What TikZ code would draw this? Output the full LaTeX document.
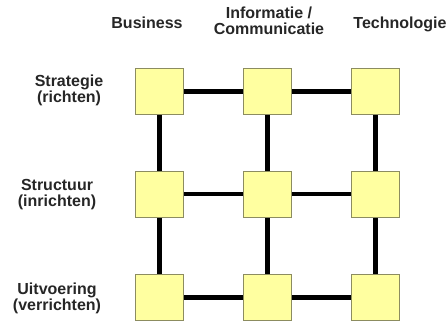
\documentclass[tikz,border=0pt]{standalone}
\usepackage{fontspec}
\setmainfont{Liberation Sans}
\definecolor{boxfill}{HTML}{FFFFA0}
\definecolor{boxedge}{HTML}{8C8C60}
\begin{document}
\begin{tikzpicture}[x=1pt,y=-1pt,
  cell/.style={draw=boxedge,line width=1pt,fill=boxfill,minimum width=48pt,minimum height=46pt,inner sep=0pt},
  link/.style={line width=5pt,black},
  lbl/.style={font=\fontsize{16}{16}\selectfont\bfseries,align=center,inner sep=0pt,anchor=base,text=black!85}]
\useasboundingbox (0,0) rectangle (446,322);
% column headers
\node[lbl] (hb) at (147,28) {Business};
\node[lbl] (hi) at (269,34) {Informatie /\\Communicatie};
\node[lbl] (ht) at (400,28) {Technologie};
% row labels
\node[lbl] (rs) at (69,102) {Strategie\\(richten)};
\node[lbl] (rt) at (57,206) {Structuur\\(inrichten)};
\node[lbl] (ru) at (57,310) {Uitvoering\\(verrichten)};
% link end points
\coordinate (c11) at (159,91.5);
\coordinate (c12) at (267,91.5);
\coordinate (c13) at (375,91.5);
\coordinate (c21) at (159,194);
\coordinate (c22) at (267,194);
\coordinate (c23) at (375,194);
\coordinate (c31) at (159,297.5);
\coordinate (c32) at (267,297.5);
\coordinate (c33) at (375,297.5);
\draw[link] (c11) -- (c12) -- (c13);
\draw[link,line width=4.5pt] (c21) -- (c22) -- (c23);
\draw[link] (c31) -- (c32) -- (c33);
\draw[link] (c11) -- (c21) -- (c31);
\draw[link] (c12) -- (c22) -- (c32);
\draw[link] (c13) -- (c23) -- (c33);
% boxes
\foreach \n in {11,12,13,21,22,23,31,32,33}
  \node[cell] (b\n) at (c\n) {};
\end{tikzpicture}
\end{document}
